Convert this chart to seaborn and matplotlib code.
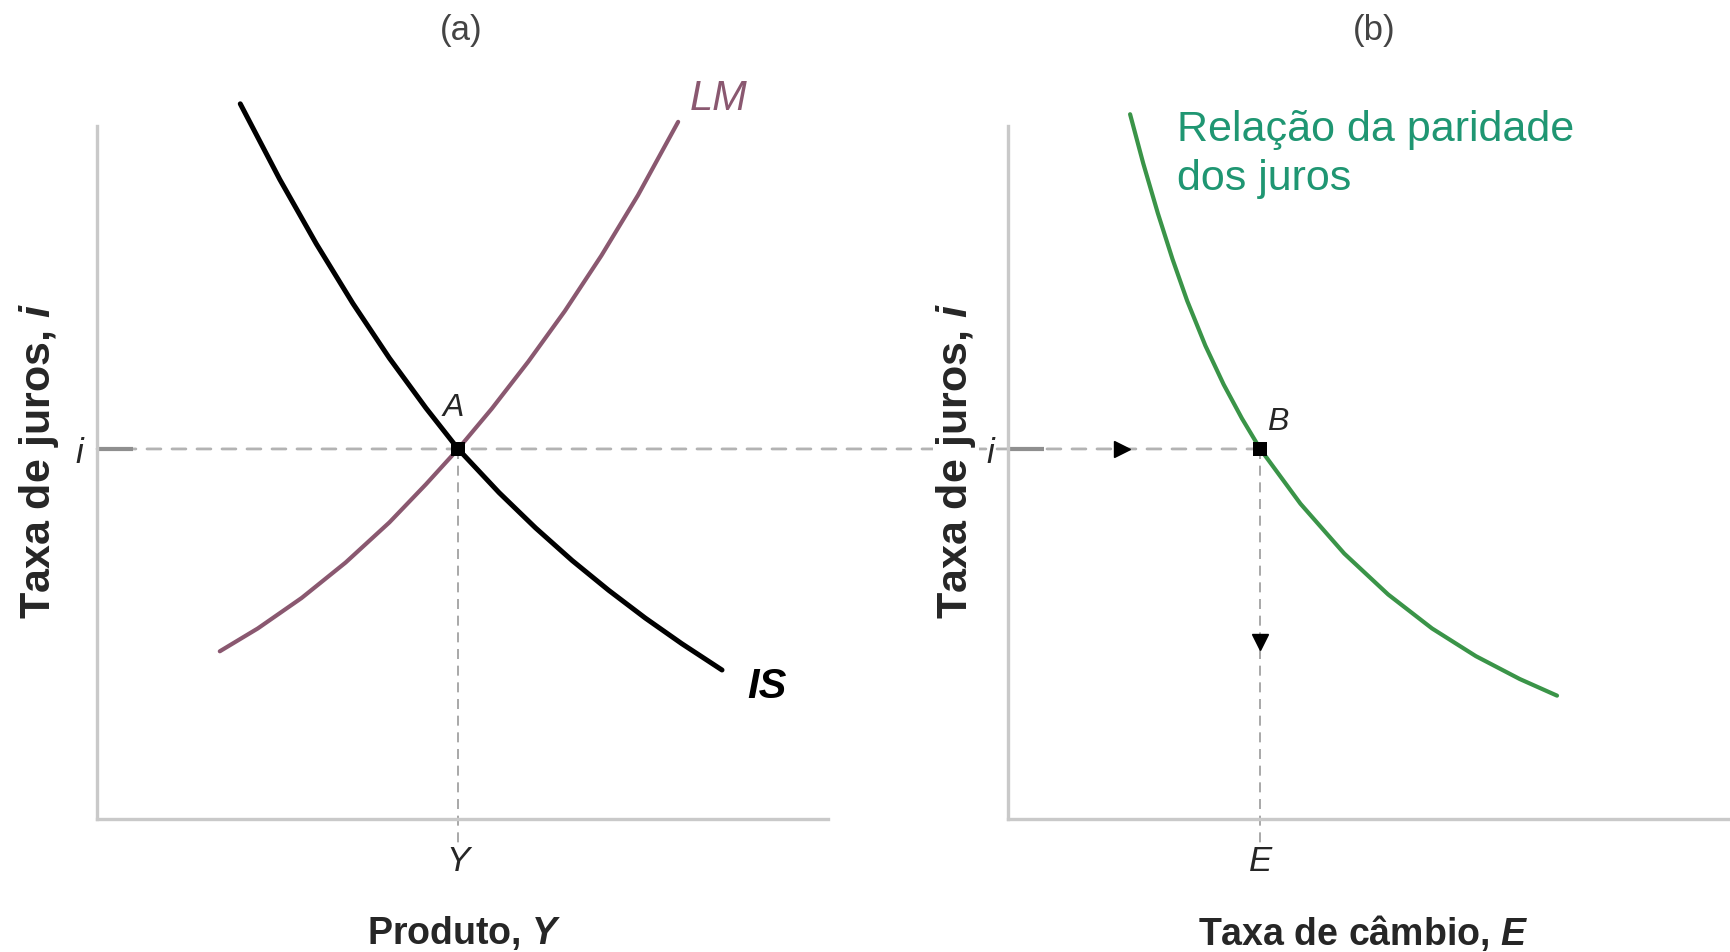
"""
plot.py
-------
IS-LM (a) and interest parity relation (b), drawn with seaborn on two axes.
Writes out.png (1731x953).
"""

import matplotlib
matplotlib.use("Agg")
import matplotlib.pyplot as plt
from matplotlib.patches import ConnectionPatch
import pandas as pd
import seaborn as sns

sns.set_style("white")
plt.rcParams["font.family"] = ["Liberation Sans", "DejaVu Sans"]
plt.rcParams["mathtext.fontset"] = "custom"
plt.rcParams["mathtext.it"] = "Liberation Sans:bold:italic"
plt.rcParams["mathtext.rm"] = "Liberation Sans:bold"

# ── Data (arbitrary units) ─────────────────────────────────────────────────────
is_x = [1.96, 2.50, 3.00, 3.50, 4.00, 4.50, 4.94, 5.50, 6.00, 6.50, 7.00, 7.50, 8.00, 8.55]
is_y = [10.32, 9.23, 8.30, 7.44, 6.65, 5.93, 5.34, 4.71, 4.20, 3.73, 3.30, 2.90, 2.53, 2.15]

lm_x = [1.68, 2.20, 2.80, 3.40, 4.00, 4.50, 4.94, 5.40, 5.90, 6.40, 6.90, 7.40, 7.95]
lm_y = [2.42, 2.75, 3.19, 3.70, 4.28, 4.83, 5.34, 5.92, 6.60, 7.33, 8.13, 9.00, 10.06]

uip_x = [1.67, 1.85, 2.05, 2.25, 2.45, 2.70, 2.95, 3.20, 3.45, 4.00, 4.60, 5.20, 5.80, 6.40, 7.00, 7.51]
uip_y = [10.17, 9.46, 8.74, 8.08, 7.48, 6.83, 6.27, 5.78, 5.34, 4.55, 3.83, 3.24, 2.75, 2.35, 2.02, 1.78]

eq_i = 5.34        # interest rate at equilibrium
eq_Y = 4.94        # output at A
eq_E = 3.45        # exchange rate at B
arrow_right = (1.56, eq_i)
arrow_down = (eq_E, 2.55)

AXIS_GREY = "#c9c9c9"
DASH_GREY = "#b3b3b3"
LM_COLOR = "#8a5870"
UIP_COLOR = "#3a9448"
TEXT_GREEN = "#1f9672"

W, H = 1731, 953
fig = plt.figure(figsize=(W / 100, H / 100), dpi=100)
fig.patch.set_facecolor("white")
ax_a = fig.add_axes([97 / W, (H - 820) / H, 731 / W, 693 / H])
ax_b = fig.add_axes([1008 / W, (H - 820) / H, 723 / W, 693 / H])


def _style(ax, xmax):
    ax.set_xlim(0, xmax)
    ax.set_ylim(0, 10)
    ax.patch.set_visible(False)
    sns.despine(ax=ax)
    for side in ("left", "bottom"):
        ax.spines[side].set_color(AXIS_GREY)
        ax.spines[side].set_linewidth(2.4)
    ax.set_yticks([eq_i], labels=["i"])
    ax.tick_params(axis="y", left=True, direction="in", length=26, width=3,
                   color="#8f8f8f", pad=10, labelsize=25)
    for lab in ax.get_yticklabels():
        lab.set_fontstyle("italic")
    ax.tick_params(axis="x", length=0, pad=18, labelsize=25)


_style(ax_a, 10.0)
_style(ax_b, 9.89)

# ── Panel (a): IS-LM ───────────────────────────────────────────────────────────
df_is = pd.DataFrame({"x": is_x, "y": is_y})
df_lm = pd.DataFrame({"x": lm_x, "y": lm_y})
sns.lineplot(data=df_lm, x="x", y="y", sort=False, estimator=None, ax=ax_a,
             color=LM_COLOR, linewidth=3.0, clip_on=False, zorder=3)
sns.lineplot(data=df_is, x="x", y="y", sort=False, estimator=None, ax=ax_a,
             color="black", linewidth=3.6, clip_on=False, zorder=4)

ax_a.plot([eq_Y, eq_Y], [eq_i, -0.35], color="#9a9a9a", lw=1.2,
          ls=(0, (6, 4)), clip_on=False, zorder=2)
sns.scatterplot(x=[eq_Y], y=[eq_i], ax=ax_a, color="black", marker="s",
                s=110, zorder=5, linewidth=0)

ax_a.set_xticks([eq_Y], labels=["Y"])
for lab in ax_a.get_xticklabels():
    lab.set_fontstyle("italic")

ax_a.text(8.5, 10.4, "LM", color=LM_COLOR, fontsize=30, fontstyle="italic",
          ha="center", va="center")
ax_a.text(9.17, 1.92, "IS", color="black", fontsize=30, fontstyle="italic",
          fontweight="bold", ha="center", va="center")
ax_a.text(4.88, 5.95, "A", fontsize=23, fontstyle="italic",
          ha="center", va="center")

ax_a.set_xlabel("Produto, $Y$", fontsize=27, fontweight="bold", va="center")
ax_a.xaxis.set_label_coords(0.502, -0.163)
ax_a.set_ylabel("Taxa de juros, $i$", fontsize=31, fontweight="bold", va="center")
ax_a.yaxis.set_label_coords(-0.079, 0.518)
ax_a.text(0.498, 1.139, "(a)", transform=ax_a.transAxes, fontsize=25,
          color="#444444", ha="center", va="center")

# ── Panel (b): interest parity ────────────────────────────────────────────────
df_uip = pd.DataFrame({"x": uip_x, "y": uip_y})
sns.lineplot(data=df_uip, x="x", y="y", sort=False, estimator=None, ax=ax_b,
             color=UIP_COLOR, linewidth=3.0, clip_on=False, zorder=3)

ax_b.plot([eq_E, eq_E], [eq_i, -0.35], color="#9a9a9a", lw=1.2,
          ls=(0, (6, 4)), clip_on=False, zorder=2)
sns.scatterplot(x=[eq_E], y=[eq_i], ax=ax_b, color="black", marker="s",
                s=110, zorder=5, linewidth=0)
ax_b.plot(*arrow_right, marker=">", color="black", markersize=12, zorder=5)
ax_b.plot(*arrow_down, marker="v", color="black", markersize=12, zorder=5)

ax_b.set_xticks([eq_E], labels=["E"])
for lab in ax_b.get_xticklabels():
    lab.set_fontstyle("italic")

ax_b.text(3.69, 5.74, "B", fontsize=23, fontstyle="italic",
          ha="center", va="center")
ax_b.text(2.31, 9.6, "Relação da paridade\ndos juros", color=TEXT_GREEN,
          fontsize=31, ha="left", va="center", linespacing=1.3)

ax_b.set_xlabel("Taxa de câmbio, $E$", fontsize=27, fontweight="bold", va="center")
ax_b.xaxis.set_label_coords(0.491, -0.163)
ax_b.set_ylabel("Taxa de juros, $i$", fontsize=31, fontweight="bold", va="center",
                bbox=dict(facecolor="white", edgecolor="none", pad=1))
ax_b.yaxis.set_label_coords(-0.072, 0.518)
ax_b.text(0.506, 1.139, "(b)", transform=ax_b.transAxes, fontsize=25,
          color="#444444", ha="center", va="center")

# dashed interest-rate line running across both panels, from i to B
link = ConnectionPatch(xyA=(0, eq_i), coordsA=ax_a.transData,
                       xyB=(eq_E, eq_i), coordsB=ax_b.transData,
                       color=DASH_GREY, lw=2.0, ls=(0, (5, 4)), zorder=-1)
fig.add_artist(link)

fig.savefig("out.png", dpi=100, facecolor="white")
plt.close(fig)
